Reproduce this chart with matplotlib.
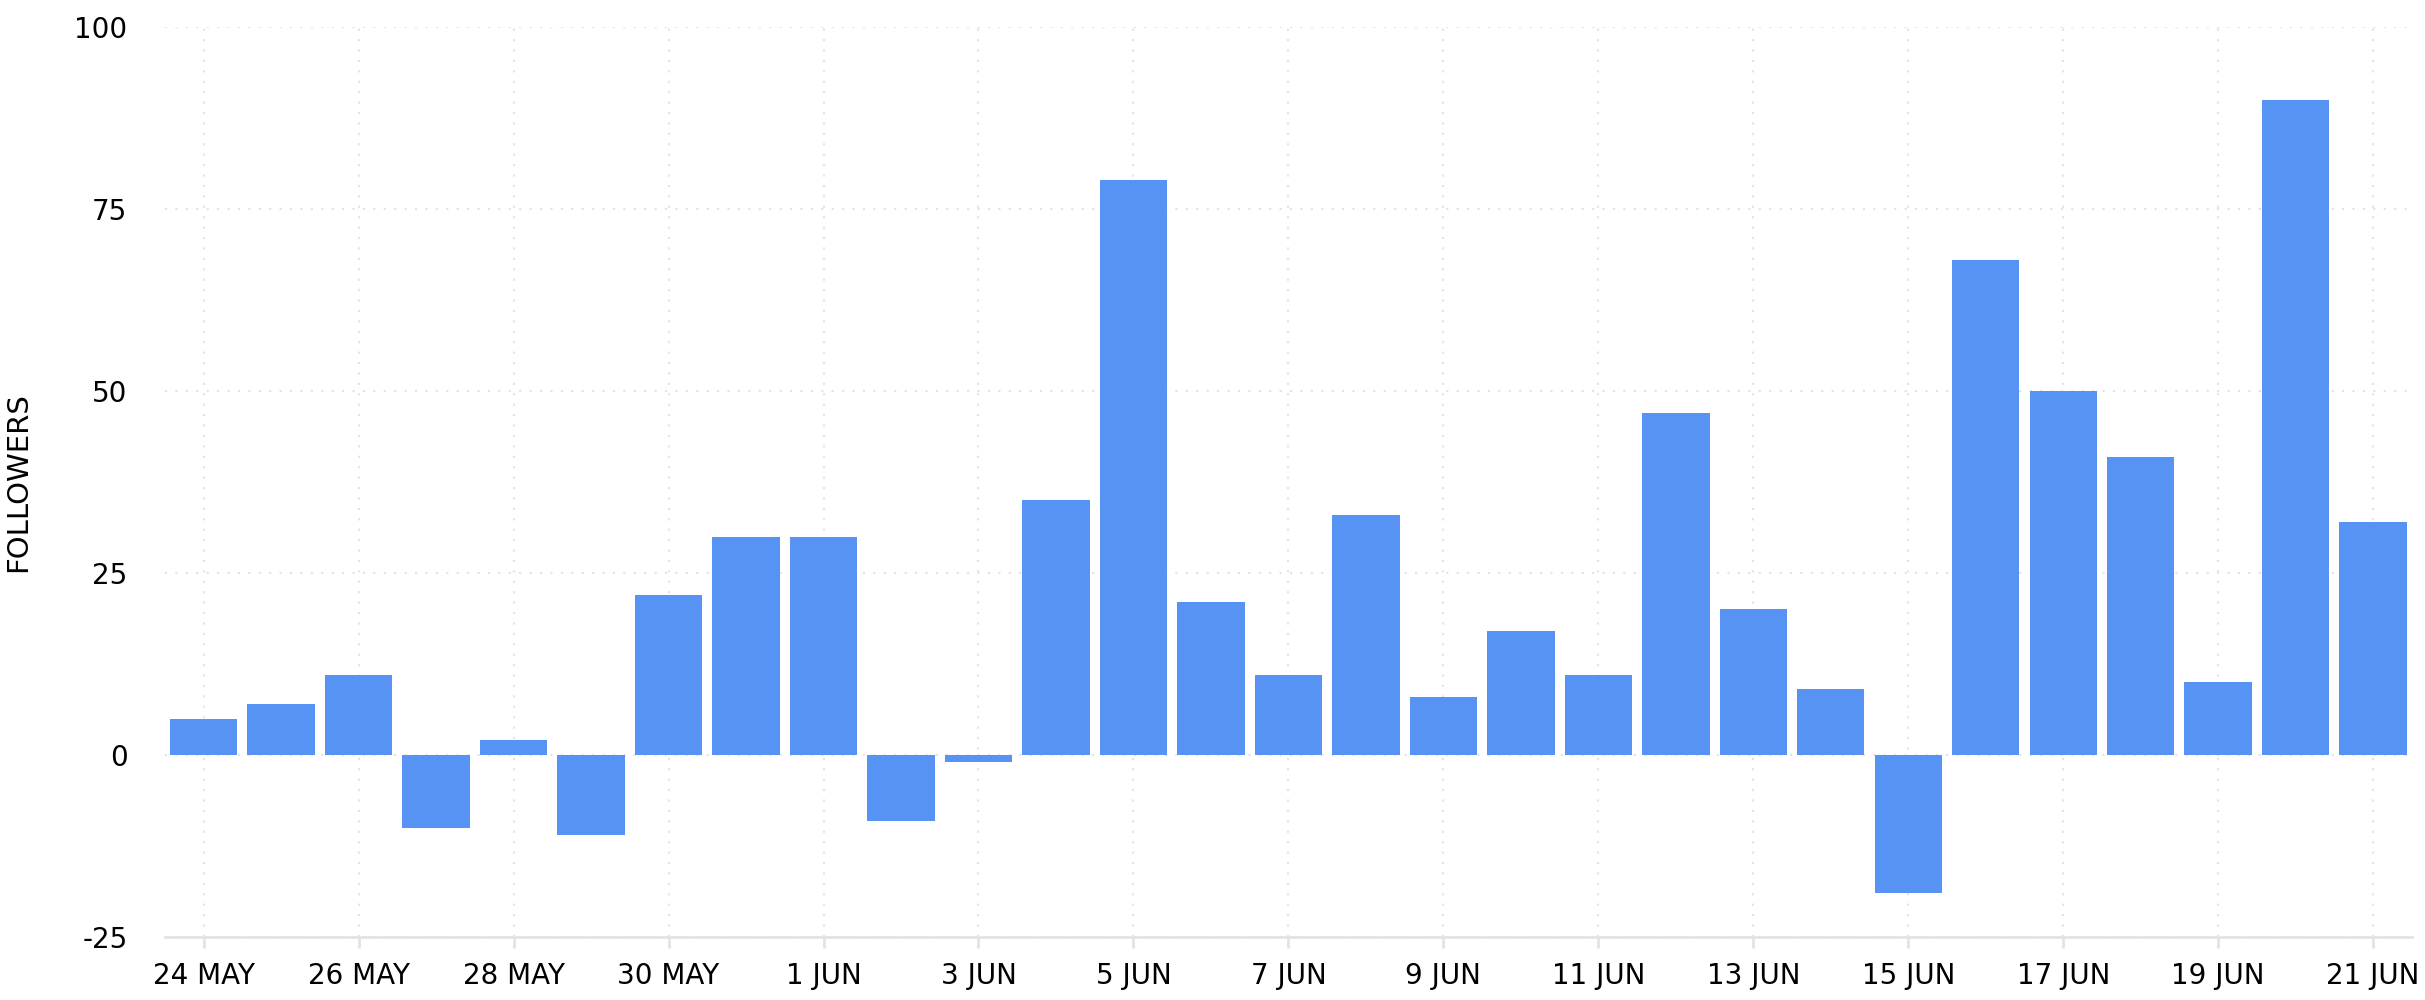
import numpy as np
import matplotlib
matplotlib.use("Agg")
import matplotlib.pyplot as plt

# daily follower change, 24 May .. 21 Jun
days = ["24 MAY", "25 MAY", "26 MAY", "27 MAY", "28 MAY", "29 MAY", "30 MAY", "31 MAY",
        "1 JUN", "2 JUN", "3 JUN", "4 JUN", "5 JUN", "6 JUN", "7 JUN", "8 JUN", "9 JUN",
        "10 JUN", "11 JUN", "12 JUN", "13 JUN", "14 JUN", "15 JUN", "16 JUN", "17 JUN",
        "18 JUN", "19 JUN", "20 JUN", "21 JUN"]
followers = [5, 7, 11, -10, 2, -11, 22, 30, 30, -9, -1, 35, 79, 21, 11, 33, 8, 17,
             11, 47, 20, 9, -19, 68, 50, 41, 10, 90, 32]
y_ticks = [-25, 0, 25, 50, 75, 100]

x = np.arange(len(days))

fig = plt.figure(figsize=(24.25, 10), dpi=100)
ax = fig.add_axes([0.068, 0.063, 0.9266, 0.91])

ax.bar(x, followers, width=0.87, color="#5793f3", zorder=3)

ax.set_xlim(-0.5, len(days) - 0.5)
ax.set_ylim(-25, 100)
ax.set_yticks(y_ticks)
ax.set_yticklabels([str(v) for v in y_ticks])
ax.set_xticks(x[::2])
ax.set_xticklabels(days[::2])

ax.grid(True, color="#e3e3e3", linestyle=(0, (1, 4)), linewidth=1.5, zorder=0)

for s in ["top", "right", "left"]:
    ax.spines[s].set_visible(False)
ax.spines["bottom"].set_color("#e3e3e3")
ax.spines["bottom"].set_linewidth(2)

ax.tick_params(axis="y", length=0, labelsize=20, pad=27)
ax.tick_params(axis="x", length=8, width=2, color="#e3e3e3", labelsize=20, pad=10)
ax.set_ylabel("FOLLOWERS", fontsize=21)
ax.yaxis.set_label_coords(-0.059, 0.5)

fig.savefig("out.png", dpi=100, facecolor="white")
